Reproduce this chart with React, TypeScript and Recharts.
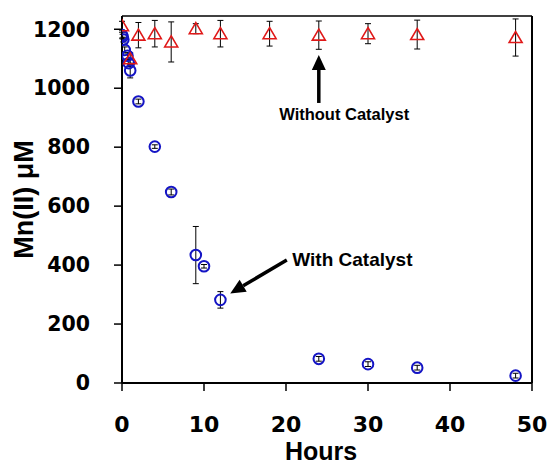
import { ScatterChart, Scatter, XAxis, YAxis, ErrorBar, ReferenceLine, ReferenceDot, Label } from 'recharts';

// With catalyst (blue circles)
const catHours = [0, 0.083, 0.167, 0.33, 0.67, 0.83, 1, 2, 4, 6, 9, 10, 12, 24, 30, 36, 48];
const catMn = [1180, 1175, 1165, 1130, 1110, 1085, 1060, 955, 802, 648, 434, 396, 282, 82, 64, 52, 25];
const catErr = [10, 8, 8, 10, 10, 12, 25, 8, 6, 10, 97, 6, 28, 8, 8, 8, 8];

// Without catalyst (red triangles)
const noCatHours = [0, 1, 2, 4, 6, 9, 12, 18, 24, 30, 36, 48];
const noCatMn = [1212, 1100, 1180, 1185, 1157, 1202, 1185, 1185, 1180, 1185, 1182, 1172];
const noCatErr = [15, 20, 43, 45, 68, 17, 45, 42, 48, 34, 49, 63];

const xTicks = [0, 10, 20, 30, 40, 50];
const yTicks = [0, 200, 400, 600, 800, 1000, 1200];
const Y_MAX = 1245;

const catData = catHours.map((h, i) => ({ h, mn: catMn[i], err: catErr[i] }));
const noCatData = noCatHours.map((h, i) => ({ h, mn: noCatMn[i], err: noCatErr[i] }));

const BLUE = '#1414c4';
const RED = '#e01818';

const Circle = (p: any) => (
  <circle cx={p.cx} cy={p.cy} r={5.3} fill="none" stroke={BLUE} strokeWidth={2} />
);

const Triangle = (p: any) => (
  <polygon
    points={`${p.cx},${p.cy - 6} ${p.cx - 6.5},${p.cy + 5} ${p.cx + 6.5},${p.cy + 5}`}
    fill="none"
    stroke={RED}
    strokeWidth={1.6}
  />
);

// thick arrow: shaft plus filled head at the second point
const Arrow = (p: any) => {
  const { x1, y1, x2, y2 } = p;
  const dx = x2 - x1;
  const dy = y2 - y1;
  const len = Math.sqrt(dx * dx + dy * dy) || 1;
  const ux = dx / len;
  const uy = dy / len;
  const hl = 15;
  const hw = 7;
  const bx = x2 - ux * hl;
  const by = y2 - uy * hl;
  return (
    <g>
      <line x1={x1} y1={y1} x2={bx} y2={by} stroke="#000" strokeWidth={3.5} />
      <polygon
        points={`${x2},${y2} ${bx - uy * hw},${by + ux * hw} ${bx + uy * hw},${by - ux * hw}`}
        fill="#000"
      />
    </g>
  );
};

const noteStyle = { fontFamily: 'Liberation Sans, Arial, sans-serif', fontWeight: 'bold', fill: '#000' };

export default function App() {
  return (
    <div style={{ position: 'absolute', left: 0, top: 0, background: '#fff' }}>
      <ScatterChart width={551} height={464} margin={{ top: 16, right: 19, bottom: 0, left: 0 }}>
        <XAxis
          type="number"
          dataKey="h"
          height={81}
          domain={[0, 50]}
          ticks={xTicks}
          allowDataOverflow
          axisLine={{ stroke: '#000', strokeWidth: 2 }}
          tickLine={{ stroke: '#000', strokeWidth: 1.5 }}
          tickSize={8}
          tickMargin={25}
          tick={{ fontFamily: 'DejaVu Sans', fontWeight: 'bold', fontSize: 22, fill: '#000' }}
          label={{
            content: (props: any) => {
              const vb = props.viewBox;
              return (
                <text x={vb.x + vb.width / 2 - 6} y={460} textAnchor="middle" fontSize={25} {...noteStyle}>
                  Hours
                </text>
              );
            },
          }}
        />
        <YAxis
          type="number"
          dataKey="mn"
          width={122}
          domain={[0, Y_MAX]}
          ticks={yTicks}
          allowDataOverflow
          axisLine={{ stroke: '#000', strokeWidth: 2 }}
          tickLine={{ stroke: '#000', strokeWidth: 1.5 }}
          tickSize={8}
          tickMargin={24}
          tick={{ fontFamily: 'DejaVu Sans', fontWeight: 'bold', fontSize: 20.5, fill: '#000' }}
          label={{
            content: (props: any) => {
              const vb = props.viewBox;
              const cy = vb.y + vb.height / 2;
              return (
                <text
                  x={33}
                  y={cy}
                  transform={`rotate(-90, 33, ${cy})`}
                  textAnchor="middle"
                  fontSize={27}
                  {...noteStyle}
                >
                  Mn(II) μM
                </text>
              );
            },
          }}
        />
        <ReferenceLine y={Y_MAX} stroke="#000" strokeWidth={1.5} />
        <ReferenceLine x={50} stroke="#000" strokeWidth={2} />

        <ReferenceLine segment={[{ x: 24, y: 950 }, { x: 24, y: 1113 }]} shape={Arrow} />
        <ReferenceLine segment={[{ x: 20.1, y: 417 }, { x: 13.2, y: 304 }]} shape={Arrow} />
        <ReferenceDot x={27.1} y={912} r={0} fill="none" stroke="none">
          <Label value="Without Catalyst" position="center" fontSize={16.5} {...noteStyle} />
        </ReferenceDot>
        <ReferenceDot x={28.1} y={420} r={0} fill="none" stroke="none">
          <Label value="With Catalyst" position="center" fontSize={19} {...noteStyle} />
        </ReferenceDot>

        <Scatter data={catData} shape={Circle} isAnimationActive={false}>
          <ErrorBar dataKey="err" direction="y" width={3} stroke="#000" strokeWidth={1} isAnimationActive={false} />
        </Scatter>
        <Scatter data={noCatData} shape={Triangle} isAnimationActive={false}>
          <ErrorBar dataKey="err" direction="y" width={3} stroke="#000" strokeWidth={1} isAnimationActive={false} />
        </Scatter>
      </ScatterChart>
    </div>
  );
}
